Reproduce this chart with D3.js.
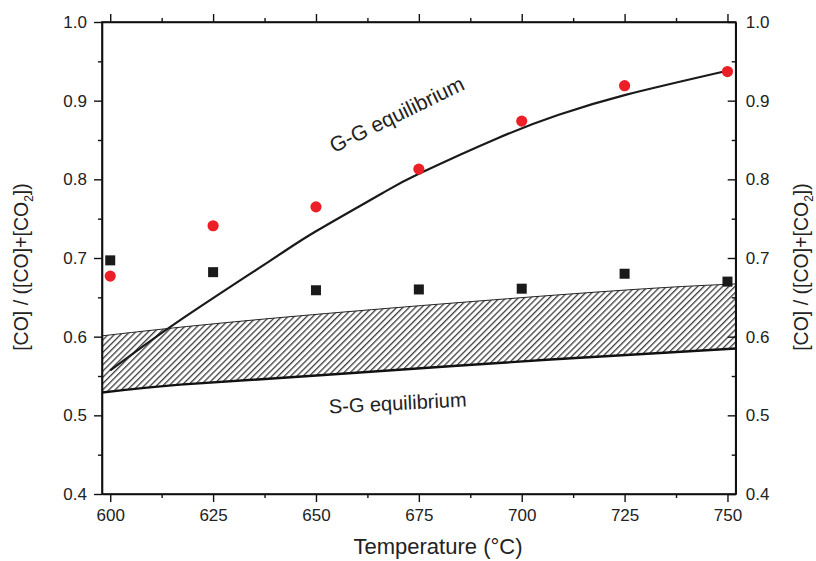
<!DOCTYPE html>
<html>
<head>
<meta charset="utf-8">
<script src="https://cdn.jsdelivr.net/npm/d3@7"></script>
<style>
  html, body { margin: 0; padding: 0; background: #fff; }
  svg { display: block; font-family: "Liberation Sans", Arial, sans-serif; }
</style>
</head>
<body>
<svg id="chart" width="816" height="561"></svg>
<script>
// Measured CO fraction vs temperature
const temps = [600, 625, 650, 675, 700, 725, 750];
const redSeries = [0.677, 0.741, 0.765, 0.813, 0.874, 0.919, 0.937];
const blackSeries = [0.697, 0.682, 0.659, 0.660, 0.661, 0.680, 0.670];

// Gas-gas equilibrium curve
const ggTemps = [600, 617, 639, 650, 666, 675, 694, 709, 725, 750];
const ggValues = [0.557, 0.621, 0.697, 0.734, 0.782, 0.807, 0.852, 0.882, 0.907, 0.938];

// Solid-gas equilibrium band (upper and lower bounds)
const bandUpperTemps = [598, 617, 656, 719, 752];
const bandUpperValues = [0.601, 0.612, 0.631, 0.657, 0.667];
const bandLowerTemps = [598, 617, 651, 707, 752];
const bandLowerValues = [0.529, 0.539, 0.551, 0.571, 0.585];

const xTicks = [600, 625, 650, 675, 700, 725, 750];
const yTicks = [0.4, 0.5, 0.6, 0.7, 0.8, 0.9, 1.0];

const svg = d3.select("#chart");
const pL = 102, pR = 735.7, pT = 22, pB = 494;

const x = d3.scaleLinear().domain([598, 752]).range([pL, pR]);
const y = d3.scaleLinear().domain([0.4, 1.0]).range([pB, pT]);

const defs = svg.append("defs");
defs.append("clipPath").attr("id", "plotClip")
  .append("rect").attr("x", pL).attr("y", pT)
  .attr("width", pR - pL).attr("height", pB - pT);

const pat = defs.append("pattern")
  .attr("id", "hatch").attr("patternUnits", "userSpaceOnUse")
  .attr("width", 4.4).attr("height", 4.4)
  .attr("patternTransform", "rotate(45)");
pat.append("line").attr("x1", 0.7).attr("y1", 0).attr("x2", 0.7).attr("y2", 4.4)
  .attr("stroke", "#1a1a1a").attr("stroke-width", 1.1);

const plot = svg.append("g").attr("clip-path", "url(#plotClip)");

// Hatched band between bounds
const upperPts = bandUpperTemps.map((t, i) => [x(t), y(bandUpperValues[i])]);
const lowerPts = bandLowerTemps.map((t, i) => [x(t), y(bandLowerValues[i])]);
const bandPath = d3.line().curve(d3.curveNatural);
const lowerRev = d3.line().curve(d3.curveNatural)(lowerPts.slice().reverse());
const bandD = bandPath(upperPts) + "L" + lowerRev.slice(1) + "Z";
plot.append("path").attr("d", bandD).attr("fill", "url(#hatch)").attr("stroke", "none");
plot.append("path").attr("d", bandPath(upperPts)).attr("fill", "none")
  .attr("stroke", "#222").attr("stroke-width", 1);
plot.append("path").attr("d", bandPath(lowerPts)).attr("fill", "none")
  .attr("stroke", "#111").attr("stroke-width", 2.4);

// G-G equilibrium curve
const ggLine = d3.line().x((d, i) => x(ggTemps[i])).y(d => y(d)).curve(d3.curveNatural);
plot.append("path").datum(ggValues).attr("d", ggLine)
  .attr("fill", "none").attr("stroke", "#1a1a1a").attr("stroke-width", 2.2);

// Square markers
plot.selectAll("rect.sq").data(blackSeries).join("rect").attr("class", "sq")
  .attr("x", (d, i) => x(temps[i]) - 5).attr("y", d => y(d) - 5)
  .attr("width", 10).attr("height", 10).attr("fill", "#1a1a1a");

// Circle markers
svg.selectAll("circle.rd").data(redSeries).join("circle").attr("class", "rd")
  .attr("cx", (d, i) => x(temps[i])).attr("cy", d => y(d)).attr("r", 5.6)
  .attr("fill", "#ec1f26");

// Axes
const tickColor = "#111";
function styleAxis(g) {
  g.selectAll("path.domain").attr("stroke", "#111").attr("stroke-width", 1.6);
  g.selectAll(".tick line").attr("stroke", tickColor).attr("stroke-width", 1.4);
  g.selectAll(".tick text").attr("fill", "#222").style("font-size", "17px")
    .style("font-family", "'Liberation Sans', Arial, sans-serif");
}
function minorStyle(g) {
  g.select("path.domain").remove();
  g.selectAll("line").attr("stroke", tickColor).attr("stroke-width", 1.4);
}
const xMinor = d3.range(612.5, 750, 25);
const yMinor = [0.45, 0.55, 0.65, 0.75, 0.85, 0.95];

// bottom
const gB = svg.append("g").attr("transform", `translate(0,${pB})`)
  .call(d3.axisBottom(x).tickValues(xTicks).tickFormat(d3.format("d")).tickSize(8).tickPadding(7).tickSizeOuter(0));
styleAxis(gB);
svg.append("g").attr("transform", `translate(0,${pB})`)
  .call(d3.axisBottom(x).tickValues(xMinor).tickFormat("").tickSize(4).tickSizeOuter(0))
  .call(minorStyle);

// top
const gT = svg.append("g").attr("transform", `translate(0,${pT})`)
  .call(d3.axisTop(x).tickValues(xTicks).tickFormat("").tickSize(8).tickSizeOuter(0));
styleAxis(gT);
svg.append("g").attr("transform", `translate(0,${pT})`)
  .call(d3.axisTop(x).tickValues(xMinor).tickFormat("").tickSize(4).tickSizeOuter(0))
  .call(minorStyle);

// left
const gL = svg.append("g").attr("transform", `translate(${pL},0)`)
  .call(d3.axisLeft(y).tickValues(yTicks).tickFormat(d3.format(".1f")).tickSize(8).tickPadding(7).tickSizeOuter(0));
styleAxis(gL);
svg.append("g").attr("transform", `translate(${pL},0)`)
  .call(d3.axisLeft(y).tickValues(yMinor).tickFormat("").tickSize(4).tickSizeOuter(0))
  .call(minorStyle);

// right (inward ticks, labels outside)
const gR = svg.append("g").attr("transform", `translate(${pR},0)`)
  .call(d3.axisRight(y).tickValues(yTicks).tickFormat(d3.format(".1f")).tickSize(-8).tickPadding(10).tickSizeOuter(0));
styleAxis(gR);
svg.append("g").attr("transform", `translate(${pR},0)`)
  .call(d3.axisRight(y).tickValues(yMinor).tickFormat("").tickSize(-4).tickSizeOuter(0))
  .call(minorStyle);

// Frame
svg.append("rect").attr("x", pL).attr("y", pT).attr("width", pR - pL).attr("height", pB - pT)
  .attr("fill", "none").attr("stroke", "#111").attr("stroke-width", 1.6);

// Axis titles
svg.append("text").attr("x", 438).attr("y", 554).attr("text-anchor", "middle")
  .attr("fill", "#222").style("font-size", "22px").text("Temperature (°C)");

function yTitle(cx) {
  const t = svg.append("text").attr("transform", `translate(${cx},267) rotate(-90)`)
    .attr("text-anchor", "middle").attr("fill", "#222").style("font-size", "19.5px");
  t.append("tspan").text("[CO] / ([CO]+[CO");
  t.append("tspan").attr("dy", 5).style("font-size", "12px").text("2");
  t.append("tspan").attr("dy", -5).text("])");
}
yTitle(28);
yTitle(808);

// Curve labels
svg.append("text").attr("transform", `translate(400,121) rotate(-26)`).attr("text-anchor", "middle")
  .attr("fill", "#222").style("font-size", "21px").text("G-G equilibrium");
svg.append("text").attr("transform", `translate(398,410) rotate(-3)`).attr("text-anchor", "middle")
  .attr("fill", "#222").style("font-size", "20px").text("S-G equilibrium");
</script>
</body>
</html>
